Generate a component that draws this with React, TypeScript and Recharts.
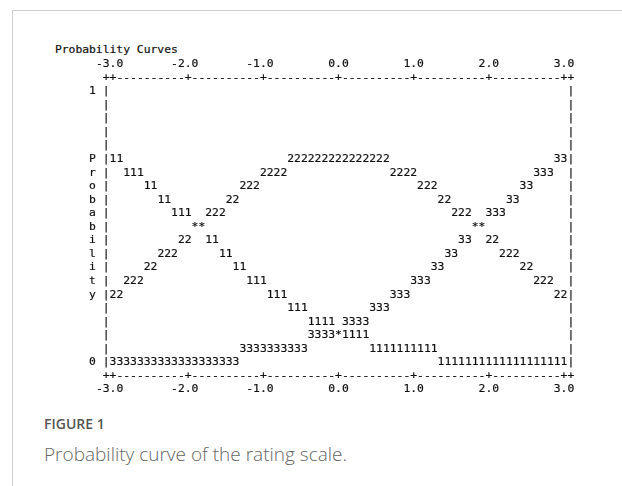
import React from 'react';
import { ScatterChart, Scatter, XAxis, YAxis } from 'recharts';

// Winsteps style category probability curves: every character is one cell of the plot.
// A run is [probability, logit of its first character, number of characters].
const curve1 = [
  [0.75, -3.0, 2],
  [0.7, -2.82, 3],
  [0.65, -2.55, 2],
  [0.6, -2.36, 2],
  [0.55, -2.18, 3],
  [0.45, -1.73, 2],
  [0.4, -1.55, 2],
  [0.35, -1.36, 2],
  [0.3, -1.18, 3],
  [0.25, -0.91, 3],
  [0.2, -0.64, 3],
  [0.15, -0.36, 4],
  [0.1, 0.09, 4],
  [0.05, 0.45, 10],
  [0.0, 1.36, 19],
];

const curve2 = [
  [0.75, -0.64, 15],
  [0.7, -1.0, 4], [0.7, 0.73, 4],
  [0.65, -1.27, 3], [0.65, 1.09, 3],
  [0.6, -1.45, 2], [0.6, 1.36, 2],
  [0.55, -1.73, 3], [0.55, 1.55, 3],
  [0.45, -2.09, 2], [0.45, 2.0, 2],
  [0.4, -2.36, 3], [0.4, 2.18, 3],
  [0.35, -2.55, 2], [0.35, 2.45, 2],
  [0.3, -2.82, 3], [0.3, 2.64, 3],
  [0.25, -3.0, 2], [0.25, 2.91, 2],
];

const curve3 = [
  [0.75, 2.91, 2],
  [0.7, 2.64, 3],
  [0.65, 2.45, 2],
  [0.6, 2.27, 2],
  [0.55, 2.0, 3],
  [0.45, 1.64, 2],
  [0.4, 1.45, 2],
  [0.35, 1.27, 2],
  [0.3, 1.0, 3],
  [0.25, 0.73, 3],
  [0.2, 0.45, 3],
  [0.15, 0.09, 4],
  [0.1, -0.36, 4],
  [0.05, -1.27, 10],
  [0.0, -3.0, 19],
];

// cells where two curves meet
const ties = [
  [0.5, -1.91, 2],
  [0.5, 1.82, 2],
  [0.1, 0.0, 1],
];

const xTickValues = [-3, -2, -1, 0, 1, 2, 3];
const yLetters = ['1', '', '', '', '', 'P', 'r', 'o', 'b', 'a', 'b', 'i', 'l', 'i', 't', 'y', '', '', '', '', '0'];

const PER_LOGIT = 11; // characters per logit
const HALF = 3 * PER_LOGIT + 1; // border column sits one char past +-3
const ROWS = 20;

const CW = 6.833;
const RH = 13.55;
const MONO = '"DejaVu Sans Mono", monospace';
const FS = 11.35;
const INK = '#111';
const AX = 1; // axis band size, the ticks are drawn on its plot-side edge

const toCells = (runs: number[][]) => {
  const out: { x: number; p: number }[] = [];
  runs.forEach(([p, x0, n]) => {
    const c0 = Math.round(x0 * PER_LOGIT);
    for (let i = 0; i < n; i++) out.push({ x: (c0 + i) / PER_LOGIT, p });
  });
  return out;
};

const colTicks: number[] = [];
for (let k = -HALF; k <= HALF; k++) colTicks.push(k / PER_LOGIT);
const rowTicks: number[] = [];
for (let r = 0; r <= ROWS; r++) rowTicks.push((ROWS - r) / ROWS);

const Char = ({ x, y, ch, anchor = 'middle' }: any) => (
  <text x={x} y={y} dy="0.36em" textAnchor={anchor} fontFamily={MONO} fontSize={FS} fill={INK}
    stroke={INK} strokeWidth={0.2}>
    {ch}
  </text>
);

const XTick = ({ x, y, payload, side }: any) => {
  const k = Math.round(payload.value * PER_LOGIT);
  const major = Math.abs(k) === HALF || k % PER_LOGIT === 0;
  const labelled = k % PER_LOGIT === 0 && xTickValues.includes(k / PER_LOGIT);
  const ly = side === 'top' ? y - RH : y + RH;
  return (
    <g>
      <Char x={x} y={y} ch={major ? '+' : '-'} />
      {labelled && <Char x={x + 1.5 * CW} y={ly} anchor="end" ch={(k / PER_LOGIT).toFixed(1)} />}
    </g>
  );
};

const YTick = ({ x, y, payload, side }: any) => {
  const row = Math.round((1 - payload.value) * ROWS);
  return (
    <g>
      <Char x={x} y={y} ch="|" />
      {side === 'left' && yLetters[row] && <Char x={x - 2 * CW} y={y} ch={yLetters[row]} />}
    </g>
  );
};

const glyph = (ch: string) => (props: any) => <Char x={props.cx} y={props.cy} ch={ch} />;

const series = [
  { name: '1', data: toCells(curve1) },
  { name: '2', data: toCells(curve2) },
  { name: '3', data: toCells(curve3) },
  { name: '*', data: toCells(ties) },
];

const App = () => {
  const plotLeft = 106.2;
  const plotTop = 76.65;
  const plotW = 2 * HALF * CW;
  const plotH = (ROWS + 2) * RH;
  const xDomain = [-HALF / PER_LOGIT, HALF / PER_LOGIT];
  const yDomain = [-1 / ROWS, 1 + 1 / ROWS];
  const axisProps = {
    type: 'number' as const,
    allowDataOverflow: true,
    interval: 0 as const,
    axisLine: false,
    tickLine: false,
    tickSize: 0,
    tickMargin: 0,
  };

  return (
    <div style={{ position: 'absolute', left: 0, top: 0, width: 622, height: 486, background: '#fff', overflow: 'hidden' }}>
      <div style={{ position: 'absolute', left: 12, top: 10, width: 620, height: 480, borderTop: '1px solid #cfcfcf', borderLeft: '1px solid #cfcfcf' }} />
      <div style={{ position: 'absolute', left: 0, top: 0, filter: 'grayscale(1)' }}>
        <ScatterChart
          width={622}
          height={486}
          margin={{
            top: plotTop - AX,
            left: plotLeft - AX,
            right: 622 - plotLeft - plotW - AX,
            bottom: 486 - plotTop - plotH - AX,
          }}
        >
          <XAxis xAxisId="top" orientation="top" dataKey="x" domain={xDomain} ticks={colTicks} height={AX}
            {...axisProps} tick={(p: any) => <XTick {...p} side="top" />} />
          <XAxis xAxisId="bottom" orientation="bottom" dataKey="x" domain={xDomain} ticks={colTicks} height={AX}
            {...axisProps} tick={(p: any) => <XTick {...p} side="bottom" />} />
          <YAxis yAxisId="left" orientation="left" dataKey="p" domain={yDomain} ticks={rowTicks} width={AX}
            {...axisProps} tick={(p: any) => <YTick {...p} side="left" />} />
          <YAxis yAxisId="right" orientation="right" dataKey="p" domain={yDomain} ticks={rowTicks} width={AX}
            {...axisProps} tick={(p: any) => <YTick {...p} side="right" />} />
          {series.map((s) => (
            <Scatter key={s.name} name={s.name} data={s.data} xAxisId="bottom" yAxisId="left"
              shape={glyph(s.name)} isAnimationActive={false} />
          ))}
        </ScatterChart>
      </div>
      <div style={{ position: 'absolute', left: 54.9, top: 49.55 - RH / 2, fontFamily: MONO, fontSize: FS, lineHeight: `${RH}px`, color: INK, whiteSpace: 'pre', WebkitTextStroke: '0.2px #111' }}>
        Probability Curves
      </div>
      <div style={{ position: 'absolute', left: 44, top: 414, fontFamily: '"Open Sans", sans-serif', fontWeight: 600, fontSize: 14, lineHeight: '19px', color: '#555' }}>
        FIGURE 1
      </div>
      <div style={{ position: 'absolute', left: 44, top: 440.7, fontFamily: '"Open Sans", sans-serif', fontWeight: 300, fontSize: 19, lineHeight: '26px', color: '#666' }}>
        Probability curve of the rating scale.
      </div>
    </div>
  );
};

export default App;
